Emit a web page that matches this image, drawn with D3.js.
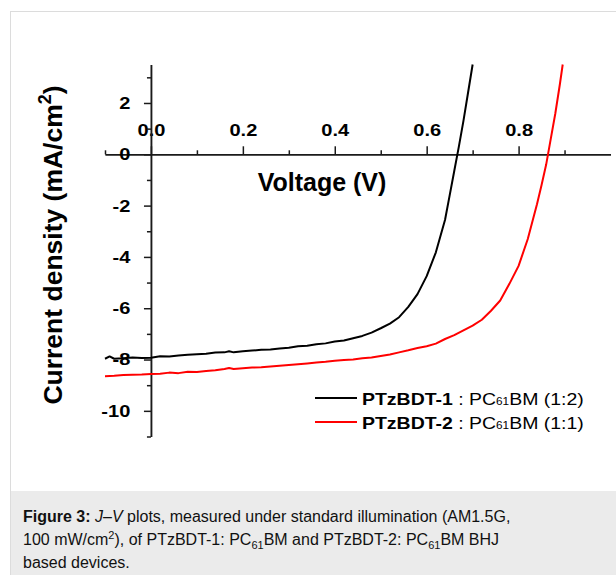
<!DOCTYPE html>
<html>
<head>
<meta charset="utf-8">
<script src="https://cdn.jsdelivr.net/npm/d3@7"></script>
<style>
  html, body { margin: 0; padding: 0; background: #fff; }
  #chart { width: 616px; height: 575px; }
  text { font-family: "Liberation Sans", Arial, sans-serif; }
</style>
</head>
<body>
<div id="chart"></div>
<script>
// J-V data
const voltage1 = [-0.10, -0.09, -0.08, -0.06, -0.04, -0.02, 0.00, 0.02, 0.04, 0.06, 0.08, 0.10,
  0.12, 0.14, 0.16, 0.17, 0.18, 0.20, 0.22, 0.24, 0.26, 0.28, 0.30, 0.32, 0.34, 0.36, 0.38,
  0.40, 0.42, 0.44, 0.46, 0.48, 0.50, 0.52, 0.54, 0.56, 0.58, 0.60, 0.62, 0.64, 0.65, 0.66,
  0.67, 0.68, 0.69, 0.70];
const current1 = [-7.97, -7.88, -7.97, -7.95, -7.92, -7.94, -7.93, -7.87, -7.88, -7.84, -7.81, -7.79,
  -7.77, -7.73, -7.72, -7.68, -7.72, -7.68, -7.65, -7.62, -7.61, -7.57, -7.54, -7.48, -7.46, -7.40, -7.37,
  -7.30, -7.26, -7.17, -7.08, -6.95, -6.78, -6.60, -6.35, -5.95, -5.45, -4.75, -3.82, -2.55, -1.60, -0.65,
  0.30, 1.30, 2.40, 3.50];

const voltage2 = [-0.10, -0.08, -0.06, -0.04, -0.02, 0.00, 0.02, 0.04, 0.06, 0.08, 0.10, 0.12,
  0.14, 0.16, 0.17, 0.18, 0.20, 0.22, 0.24, 0.26, 0.28, 0.30, 0.32, 0.34, 0.36, 0.38, 0.40,
  0.42, 0.44, 0.46, 0.48, 0.50, 0.52, 0.54, 0.56, 0.58, 0.60, 0.62, 0.64, 0.66, 0.68, 0.70,
  0.72, 0.74, 0.76, 0.78, 0.80, 0.82, 0.84, 0.85, 0.86, 0.87, 0.88, 0.89, 0.896];
const current2 = [-8.65, -8.63, -8.60, -8.59, -8.58, -8.56, -8.55, -8.51, -8.53, -8.48, -8.49, -8.45,
  -8.42, -8.37, -8.33, -8.37, -8.34, -8.31, -8.30, -8.27, -8.24, -8.21, -8.18, -8.15, -8.12, -8.09, -8.05,
  -8.02, -8.00, -7.95, -7.92, -7.86, -7.80, -7.72, -7.64, -7.55, -7.48, -7.38, -7.20, -7.05, -6.86, -6.68,
  -6.45, -6.10, -5.70, -5.05, -4.35, -3.30, -1.95, -1.20, -0.40, 0.60, 1.60, 2.75, 3.50];

const seriesNames = ['PTzBDT-1', 'PTzBDT-2'];
const seriesBlends = ['(1:2)', '(1:1)'];
const seriesColors = ['#000000', '#ff0000'];

const xMajorTicks = [0.0, 0.2, 0.4, 0.6, 0.8];
const xMinorTicks = [-0.1, 0.1, 0.3, 0.5, 0.7, 0.9];
const yMajorTicks = [2, 0, -2, -4, -6, -8, -10];
const yMinorTicks = [3, 1, -1, -3, -5, -7, -9, -11];

// the labels in the figure are a bit wider than Liberation, stretch them
const labelStretch = 1.18;

class JVChart {
  constructor(node, options) {
    this.options = options || {};
    this.container = d3.select(node);
    this.setupVar();
    this.setupUtils();
    this.setupDOM();
  }

  setupVar() {
    this.width = 616;
    this.height = 575;
    // plot box, in page pixels
    this.left = 105;
    this.right = 610.5;
    this.top = 64.5;
    this.bottom = 436.5;
  }

  setupUtils() {
    this.x = d3.scaleLinear().domain([-0.1, 1.0]).range([this.left, this.right]);
    this.y = d3.scaleLinear().domain([-11, 3.5]).range([this.bottom, this.top]);
  }

  setupDOM() {
    this.svg = this.container.append('svg')
      .attr('width', this.width)
      .attr('height', this.height);

    // outer frame + caption panel
    this.svg.append('rect')
      .attr('x', 10.5).attr('y', 11.5)
      .attr('width', 700).attr('height', 600)
      .attr('fill', '#fff')
      .attr('stroke', '#dcdcdc');
    this.svg.append('rect')
      .attr('x', 11).attr('y', 491)
      .attr('width', 620).attr('height', 90)
      .attr('fill', '#ebebeb');

    this.plots = this.svg.append('g').attr('class', 'plots');
  }

  drawAxes() {
    const x0 = this.x(0);
    const y0 = this.y(0);

    const xAxis = d3.axisTop(this.x)
      .tickValues(xMajorTicks)
      .tickSize(8)
      .tickSizeOuter(0)
      .tickPadding(10)
      .tickFormat(d3.format('.1f'));
    const gx = this.plots.append('g')
      .attr('transform', `translate(0,${y0})`)
      .call(xAxis);
    this.plots.append('g')
      .attr('transform', `translate(0,${y0})`)
      .call(d3.axisTop(this.x).tickValues(xMinorTicks).tickSize(4).tickSizeOuter(0).tickFormat(''));

    const yAxis = d3.axisLeft(this.y)
      .tickValues(yMajorTicks)
      .tickSize(7)
      .tickSizeOuter(0)
      .tickPadding(10.5)
      .tickFormat((d) => String(d)); // plain hyphen, like the figure
    const gy = this.plots.append('g')
      .attr('transform', `translate(${x0},0)`)
      .call(yAxis);
    this.plots.append('g')
      .attr('transform', `translate(${x0},0)`)
      .call(d3.axisLeft(this.y).tickValues(yMinorTicks).tickSize(4).tickSizeOuter(0).tickFormat(''));

    this.plots.selectAll('.domain, .tick line')
      .attr('stroke', '#1a1a1a')
      .attr('stroke-width', 1.5);

    [gx, gy].forEach((g) => {
      g.selectAll('text')
        .attr('font-size', '17px')
        .attr('font-weight', 'bold')
        .attr('fill', '#000')
        .attr('font-family', '"Liberation Sans", Arial, sans-serif')
        .attr('transform', `scale(${labelStretch},1)`);
    });

    // axis titles
    this.plots.append('text')
      .attr('x', 322)
      .attr('y', 191)
      .attr('text-anchor', 'middle')
      .attr('font-size', '25px')
      .attr('font-weight', 'bold')
      .text('Voltage (V)');

    const yTitle = this.plots.append('text')
      .attr('transform', 'translate(62,245) rotate(-90)')
      .attr('text-anchor', 'middle')
      .attr('font-size', '26.5px')
      .attr('font-weight', 'bold');
    yTitle.append('tspan').text('Current density (mA/cm');
    yTitle.append('tspan').attr('font-size', '18px').attr('dy', '-11').text('2');
    yTitle.append('tspan').attr('dy', '11').text(')');
  }

  drawGraph(series) {
    const line = d3.line()
      .x((d) => this.x(d.v))
      .y((d) => this.y(d.j));

    this.plots.selectAll('path.jv')
      .data(series)
      .enter()
      .append('path')
      .attr('class', 'jv')
      .attr('fill', 'none')
      .attr('stroke', (d) => d.color)
      .attr('stroke-width', 2)
      .attr('stroke-linejoin', 'round')
      .attr('d', (d) => line(d.points));

    // legend
    const legend = this.plots.selectAll('g.legend')
      .data(series)
      .enter()
      .append('g')
      .attr('class', 'legend')
      .attr('transform', (d, i) => `translate(315,${398 + i * 24})`);
    legend.append('line')
      .attr('x1', 0).attr('x2', 42)
      .attr('stroke', (d) => d.color)
      .attr('stroke-width', 2);
    const lt = legend.append('text')
      .attr('transform', `translate(47,7) scale(${labelStretch},1)`)
      .attr('font-size', '16.5px');
    lt.append('tspan').attr('font-weight', 'bold').text((d) => d.name);
    lt.append('tspan').text(' : PC');
    lt.append('tspan').attr('font-size', '10px').text('61');
    lt.append('tspan').text((d) => `BM ${d.blend}`);
  }

  drawCaption() {
    const g = this.svg.append('g').attr('font-size', '16px').attr('fill', '#111');
    const l1 = g.append('text').attr('x', 23).attr('y', 522);
    l1.append('tspan').attr('font-weight', 'bold').text('Figure 3:');
    l1.append('tspan').text(' ');
    l1.append('tspan').attr('font-style', 'italic').text('J');
    l1.append('tspan').text('–');
    l1.append('tspan').attr('font-style', 'italic').text('V');
    l1.append('tspan').text(' plots, measured under standard illumination (AM1.5G,');

    const l2 = g.append('text').attr('x', 23).attr('y', 545);
    l2.append('tspan').text('100 mW/cm');
    l2.append('tspan').attr('font-size', '11px').attr('dy', '-6').text('2');
    l2.append('tspan').attr('dy', '6').text('), of PTzBDT-1: PC');
    l2.append('tspan').attr('font-size', '11px').attr('dy', '4').text('61');
    l2.append('tspan').attr('dy', '-4').text('BM and PTzBDT-2: PC');
    l2.append('tspan').attr('font-size', '11px').attr('dy', '4').text('61');
    l2.append('tspan').attr('dy', '-4').text('BM BHJ');

    g.append('text').attr('x', 23).attr('y', 568).text('based devices.');
  }
}

const graph = new JVChart(document.getElementById('chart'));
graph.drawAxes();
graph.drawGraph([
  {
    name: seriesNames[0], blend: seriesBlends[0], color: seriesColors[0],
    points: voltage1.map((v, i) => ({ v, j: current1[i] })),
  },
  {
    name: seriesNames[1], blend: seriesBlends[1], color: seriesColors[1],
    points: voltage2.map((v, i) => ({ v, j: current2[i] })),
  },
]);
graph.drawCaption();
</script>
</body>
</html>
